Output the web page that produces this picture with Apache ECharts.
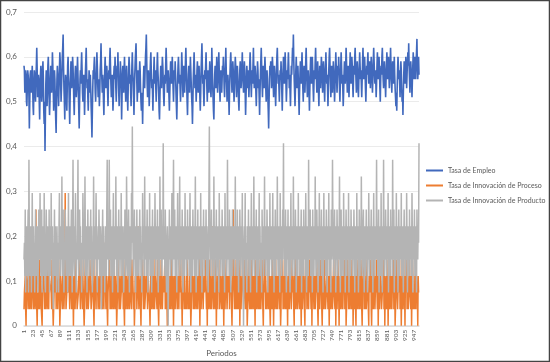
<!DOCTYPE html>
<html><head><meta charset="utf-8">
<script src="https://cdn.jsdelivr.net/npm/echarts@6/dist/echarts.min.js"></script>
<style>html,body{margin:0;padding:0;background:#fff}#c{width:550px;height:362px}</style>
</head><body><div id="c"></div>
<script>
// Tasa de Empleo (valor por período)
const tasaEmpleo = [
.58,.57,.52,.54,.57,.56,.50,.49,.53,.57,.57,.55,.51,.44,.50,.56,.57,.57,.52,.55,.58,.54,.49,.47,.53,.57,.56,.52,.50,.55,.58,.62,.57,.51,.53,.56,.55,.50,.46,.52,
.56,.58,.54,.50,.52,.57,.59,.55,.48,.45,.50,.39,.47,.54,.57,.53,.49,.52,.58,.60,.56,.51,.47,.50,.55,.58,.54,.52,.56,.61,.58,.53,.48,.51,.57,.55,.50,.46,.43,.50,
.55,.58,.56,.52,.49,.53,.57,.61,.59,.54,.50,.53,.56,.60,.62,.65,.58,.53,.50,.46,.52,.56,.55,.51,.48,.53,.58,.60,.56,.54,.49,.45,.51,.55,.59,.57,.53,.55,.60,.58,
.54,.50,.47,.52,.56,.58,.55,.51,.53,.57,.60,.56,.52,.48,.44,.50,.55,.57,.54,.58,.61,.57,.52,.50,.54,.56,.52,.47,.51,.56,.59,.62,.57,.53,.55,.51,.48,.53,.57,.55,
.52,.56,.53,.49,.46,.42,.48,.53,.57,.55,.58,.60,.56,.52,.50,.54,.57,.61,.58,.54,.51,.55,.53,.49,.52,.57,.59,.63,.58,.55,.52,.56,.54,.50,.47,.53,.57,.60,.57,.53,
.55,.58,.56,.52,.49,.54,.57,.55,.59,.62,.58,.54,.51,.53,.56,.52,.48,.51,.56,.58,.55,.60,.57,.53,.50,.54,.58,.56,.61,.57,.52,.49,.53,.55,.59,.57,.53,.46,.51,.56,
.58,.55,.52,.57,.60,.56,.53,.50,.55,.58,.54,.51,.48,.53,.57,.60,.58,.54,.56,.52,.49,.54,.58,.61,.57,.55,.51,.47,.52,.56,.59,.61,.63,.58,.54,.50,.53,.57,.55,.52,
.56,.59,.57,.53,.50,.48,.52,.50,.45,.51,.55,.58,.56,.53,.57,.60,.62,.65,.59,.54,.51,.55,.57,.53,.49,.52,.56,.59,.61,.57,.53,.55,.52,.48,.53,.57,.60,.56,.54,.57,
.53,.50,.54,.58,.61,.57,.55,.52,.48,.46,.51,.55,.58,.56,.53,.57,.60,.58,.55,.51,.49,.53,.56,.54,.58,.62,.59,.55,.52,.54,.57,.55,.51,.48,.52,.56,.59,.57,.54,.56,
.60,.57,.53,.50,.54,.57,.55,.59,.56,.52,.49,.46,.51,.55,.58,.60,.57,.54,.56,.53,.50,.53,.57,.61,.58,.55,.51,.54,.58,.56,.52,.55,.59,.62,.58,.54,.50,.47,.52,.56,
.58,.55,.52,.56,.60,.57,.54,.51,.49,.45,.50,.55,.58,.61,.57,.53,.56,.54,.50,.53,.57,.59,.56,.52,.55,.58,.55,.51,.48,.52,.57,.60,.63,.58,.54,.56,.52,.49,.53,.57,
.55,.58,.61,.57,.53,.50,.54,.57,.55,.52,.56,.59,.57,.53,.51,.55,.62,.58,.54,.51,.48,.46,.52,.56,.58,.55,.53,.57,.60,.56,.52,.55,.58,.61,.57,.53,.50,.54,.57,.55,
.52,.55,.58,.56,.60,.57,.53,.51,.55,.58,.62,.57,.54,.50,.53,.56,.54,.51,.47,.52,.56,.59,.61,.58,.55,.52,.56,.59,.57,.53,.50,.54,.57,.60,.58,.54,.51,.55,.58,.56,
.53,.50,.48,.53,.57,.59,.56,.53,.55,.58,.61,.57,.54,.52,.56,.59,.57,.52,.47,.51,.55,.58,.56,.53,.57,.55,.51,.54,.58,.61,.58,.54,.51,.55,.57,.54,.58,.62,.57,.53,
.55,.58,.56,.52,.49,.53,.56,.59,.57,.53,.55,.51,.47,.52,.56,.59,.62,.58,.54,.51,.55,.58,.56,.53,.57,.60,.57,.53,.50,.54,.57,.55,.51,.48,.44,.50,.55,.58,.56,.59,
.57,.53,.56,.60,.58,.54,.51,.55,.58,.56,.52,.49,.53,.57,.60,.62,.58,.54,.56,.53,.50,.54,.57,.55,.59,.56,.52,.48,.53,.57,.60,.57,.54,.56,.61,.58,.54,.50,.53,.57,
.55,.58,.61,.57,.53,.56,.52,.49,.54,.58,.56,.59,.62,.60,.65,.59,.55,.52,.49,.53,.57,.60,.56,.53,.55,.58,.55,.51,.47,.52,.56,.59,.57,.54,.58,.61,.57,.53,.50,.55,
.58,.56,.52,.55,.59,.62,.58,.54,.51,.54,.57,.55,.52,.48,.53,.57,.60,.58,.54,.56,.60,.57,.53,.50,.54,.57,.55,.59,.62,.58,.55,.52,.56,.59,.56,.52,.49,.54,.58,.56,
.53,.57,.60,.58,.55,.52,.56,.59,.57,.53,.50,.55,.58,.61,.57,.54,.56,.53,.49,.53,.57,.60,.62,.58,.54,.51,.55,.58,.56,.52,.55,.59,.57,.54,.50,.53,.57,.61,.58,.55,
.52,.55,.58,.56,.60,.57,.53,.50,.54,.58,.61,.58,.54,.56,.53,.49,.52,.56,.59,.57,.54,.58,.62,.59,.55,.52,.56,.58,.55,.51,.54,.58,.61,.57,.54,.56,.60,.58,.54,.51,
.55,.58,.56,.60,.62,.58,.55,.52,.56,.59,.57,.53,.51,.55,.58,.61,.58,.55,.57,.54,.51,.55,.59,.62,.58,.55,.57,.60,.57,.53,.50,.54,.58,.56,.59,.61,.57,.54,.56,.59,
.56,.53,.57,.60,.58,.55,.52,.55,.59,.62,.59,.56,.54,.57,.55,.51,.54,.58,.61,.58,.55,.57,.60,.57,.53,.50,.55,.58,.56,.60,.62,.58,.55,.53,.56,.59,.57,.54,.51,.55,
.58,.61,.58,.55,.57,.60,.56,.53,.55,.59,.62,.58,.55,.52,.56,.59,.57,.54,.57,.60,.56,.53,.51,.49,.52,.48,.53,.57,.60,.58,.55,.57,.54,.51,.55,.59,.57,.53,.50,.52,
.47,.52,.56,.59,.57,.54,.56,.60,.57,.53,.56,.59,.61,.58,.63,.58,.55,.52,.56,.59,.57,.54,.51,.55,.58,.61,.58,.55,.57,.60,.58,.55,.59,.61,.64,.58,.55,.57,.60,.56
];
// Innovación: número de empresas innovadoras sobre un total de 27
const totalEmpresas = 27;
const innovProcesoN = [
1,2,2,3,1,0,2,3,3,2,1,1,4,2,1,3,2,2,1,1,3,4,2,1,2,3,3,1,2,7,3,1,0,2,2,1,3,4,1,2,
2,3,1,1,0,2,3,3,4,2,1,2,1,3,3,2,1,5,2,2,1,3,3,3,3,3,2,1,4,2,1,0,1,2,3,2,2,4,1,3,
3,2,1,2,4,4,2,0,1,3,3,2,2,1,3,4,2,1,2,3,8,3,1,1,2,4,2,2,2,3,3,1,2,5,3,2,1,1,3,2,
0,2,3,3,1,2,4,3,2,1,1,1,2,3,5,5,2,1,2,3,4,2,1,3,2,2,0,1,3,4,3,2,1,2,2,3,1,1,2,3,
4,3,2,1,1,2,3,5,2,1,0,2,3,3,2,1,4,4,3,2,1,2,3,2,1,1,3,2,2,4,1,3,3,2,1,5,5,5,2,1,
2,3,1,0,2,2,3,4,3,1,2,1,3,2,1,2,3,3,1,4,2,2,1,3,2,0,1,2,4,3,2,1,2,3,1,1,2,3,2,4,
3,1,2,2,0,3,4,2,1,3,3,2,1,2,5,3,1,1,2,3,2,1,4,2,3,3,1,2,0,1,3,2,2,4,1,2,3,6,2,1,
2,2,3,1,0,2,3,3,4,2,1,2,3,1,1,2,3,2,4,2,1,3,3,2,2,1,0,2,4,3,1,2,3,2,1,5,2,1,1,3,
3,2,2,1,4,3,1,0,2,3,2,2,1,4,3,2,1,1,3,2,2,3,4,1,2,1,3,3,0,2,4,2,1,3,2,1,2,5,3,1,
1,3,2,0,2,3,3,1,2,4,4,2,1,1,3,2,1,3,2,2,5,3,1,2,0,2,3,4,2,1,3,1,2,2,1,3,4,3,1,2,
2,1,3,3,2,0,1,4,2,3,2,1,2,3,1,2,4,3,1,2,3,2,1,1,3,5,2,0,2,3,1,2,4,3,2,1,2,3,2,2,
3,4,2,1,2,0,3,3,1,2,4,2,1,3,2,1,2,3,6,2,1,3,2,2,1,4,3,0,2,1,3,2,2,4,1,1,2,3,3,1,
2,3,1,4,2,0,2,3,1,2,3,4,2,1,1,3,2,2,3,1,4,2,3,2,1,0,2,3,7,3,2,1,3,2,1,4,2,1,3,2,
1,2,4,3,0,2,3,1,2,2,3,5,2,1,1,3,4,2,1,2,3,2,0,1,3,4,2,2,1,3,3,1,2,4,1,2,3,2,1,3,
2,0,3,4,2,1,3,2,2,1,4,3,1,2,3,1,2,3,4,2,1,0,2,3,2,5,3,1,2,2,1,3,4,2,1,2,3,1,0,2,
3,2,1,4,3,2,0,2,3,1,2,4,2,1,3,1,2,3,3,2,1,4,2,0,1,3,2,3,4,1,2,1,3,2,2,1,4,3,1,2,
0,3,2,4,1,2,3,3,2,1,1,4,2,3,2,1,0,3,5,2,1,2,3,4,1,1,2,3,2,1,3,4,2,0,2,3,1,2,4,3,
2,1,0,3,2,4,3,1,2,2,3,1,1,4,2,3,2,1,3,0,2,4,3,2,1,2,3,1,1,3,2,4,2,1,0,2,3,3,1,2,
4,2,3,1,0,2,3,2,1,4,3,2,1,1,2,3,5,2,1,3,2,0,2,4,3,1,2,3,2,1,1,3,4,2,2,1,3,0,2,3,
1,2,4,3,2,0,2,3,1,2,4,2,1,3,1,2,3,2,4,1,2,3,0,1,3,2,4,2,1,3,2,1,2,3,4,1,2,2,3,0,
2,3,1,4,2,2,0,3,2,1,3,4,2,1,2,3,1,2,4,3,1,0,2,3,2,4,1,2,3,1,2,1,3,4,2,2,1,0,3,2,
3,2,4,1,0,2,3,2,1,4,3,2,1,1,3,2,4,2,1,3,0,2,3,1,2,4,3,2,1,1,2,3,2,4,1,3,0,2,2,3,
1,4,2,3,0,2,3,1,2,4,2,1,3,1,2,3,2,4,1,2,3,0,1,2,4,3,2,1,1,3,2,2,4,1,3,2,0,2,3,1,
2,3,4,1,2,0,3,2,2,4,1,3,2,1,1,3,4,2,2,1,3,0,2,4,3,1,2,2,1,3,1,4,2,3,1,2,0,3,2,2
];
const innovProductoN = [
4,5,3,7,2,5,6,4,3,5,7,2,10,5,4,3,6,5,2,4,8,5,3,6,4,5,2,4,7,5,3,4,6,3,2,5,7,4,5,8,
4,3,5,7,2,6,4,5,3,8,5,4,2,4,7,5,3,6,4,5,3,7,2,4,6,3,8,5,4,6,3,1,5,4,7,3,6,4,5,2,
6,4,3,5,2,6,8,4,5,3,6,4,9,5,3,7,4,2,5,4,7,5,3,4,6,5,2,4,8,3,5,6,4,3,5,7,4,2,6,10,
5,4,3,6,5,8,4,2,5,4,6,10,5,3,4,7,5,6,3,4,2,5,4,8,6,3,5,4,9,5,3,4,6,2,5,7,4,5,3,6,
4,5,7,3,6,4,2,5,4,9,5,3,6,4,5,8,4,3,2,5,6,4,7,5,3,4,6,5,1,4,5,7,3,6,4,5,2,4,6,5,
3,7,10,5,4,6,3,10,5,4,7,3,5,6,4,2,5,8,4,3,6,5,4,9,5,3,4,6,2,5,7,4,6,3,5,4,8,5,3,6,
4,5,2,6,4,7,5,3,4,9,6,4,3,5,7,4,2,5,6,3,4,8,5,12,6,4,3,5,7,4,6,2,5,4,7,3,5,6,4,3,
5,7,4,6,3,5,2,4,8,5,6,4,3,9,5,4,6,3,5,7,4,2,5,6,4,8,3,5,4,6,2,5,7,4,3,6,5,4,8,5,
3,6,4,5,7,4,2,5,6,3,9,5,4,7,5,3,6,4,11,5,4,6,3,7,5,4,2,5,6,4,0,3,5,7,4,6,3,5,4,8,
5,3,6,10,5,4,7,3,5,6,4,2,5,8,4,6,3,5,9,4,5,3,6,4,7,5,2,4,6,5,3,8,4,5,6,3,4,7,5,4,
6,3,5,8,4,2,5,6,4,3,7,5,4,6,3,5,9,4,2,5,6,4,7,3,5,4,6,5,3,8,4,5,2,6,4,5,7,3,4,6,
5,4,7,3,6,5,4,2,5,8,12,6,4,3,5,7,4,6,3,5,4,9,5,2,4,6,5,7,3,4,5,6,4,2,8,5,4,6,3,5,
4,7,5,3,6,4,5,2,8,4,6,5,3,4,10,5,4,6,3,7,5,4,2,6,5,3,7,4,5,6,4,3,5,9,4,6,5,3,7,4,
5,2,6,4,7,5,3,4,6,5,8,3,4,0,5,6,4,8,3,5,4,2,6,5,4,7,3,5,6,4,2,5,8,4,6,3,5,4,9,5,
3,6,4,5,7,2,5,4,6,3,5,8,4,6,3,4,5,2,7,5,4,6,3,5,9,4,6,3,5,4,7,5,2,4,6,5,3,8,4,5,
6,4,3,5,8,4,6,2,5,4,7,3,5,6,4,9,5,3,4,6,5,2,8,4,5,6,3,4,7,5,11,4,6,3,5,7,4,2,5,6,
4,7,3,5,6,4,2,5,8,4,6,3,5,4,9,5,3,6,4,7,5,2,4,6,5,3,8,4,5,6,3,4,5,7,2,6,4,5,3,7,
5,4,6,3,8,5,2,4,6,5,3,10,4,6,5,7,3,4,5,6,2,7,4,5,3,6,4,9,5,3,4,7,5,6,2,4,5,8,3,6,
4,5,7,3,6,4,2,5,8,4,6,5,3,4,7,5,2,6,4,5,8,3,4,6,5,2,7,4,5,10,6,4,3,5,7,4,6,2,5,4,
7,5,3,6,4,5,9,4,2,5,7,3,6,4,5,3,8,5,4,6,2,5,7,4,3,6,5,4,8,2,5,6,4,3,7,5,4,6,3,5,
4,7,5,2,6,4,5,3,8,4,6,5,2,4,7,5,3,6,4,9,5,3,4,6,7,4,2,5,6,3,5,7,4,5,2,6,4,8,5,3,
6,4,5,7,3,4,6,2,5,8,4,5,3,6,4,5,10,4,6,3,5,7,2,4,5,6,3,8,4,5,2,6,4,10,5,3,6,4,7,5,
3,5,6,4,8,2,5,4,6,3,7,5,4,6,3,10,5,4,7,2,5,6,3,4,8,5,4,6,2,5,7,3,4,6,5,4,8,3,5,6,
4,2,5,7,4,6,3,5,4,8,5,2,6,4,5,3,7,4,6,5,3,4,8,5,2,6,4,5,7,3,5,4,6,2,7,5,4,6,5,11
];
const seriesNames = ['Tasa de Empleo','Tasa de Innovación de Proceso','Tasa de Innovación de Producto'];
const periodos = tasaEmpleo.map((_, i) => String(i + 1));
const tasaProceso = innovProcesoN.map(n => +(n / totalEmpresas).toFixed(4));
const tasaProducto = innovProductoN.map(n => +(n / totalEmpresas).toFixed(4));

const FONT = 'Lato, "Open Sans", sans-serif';
const chart = echarts.init(document.getElementById('c'), null, {renderer: 'canvas'});
chart.setOption({
  animation: false,
  backgroundColor: '#ffffff',
  grid: {left: 24, right: 131, top: 12, bottom: 34, containLabel: false},
  legend: {
    orient: 'vertical', left: 426, top: 167, itemWidth: 17, itemHeight: 2, itemGap: 8,
    padding: 0, icon: 'rect',
    textStyle: {fontSize: 7, color: '#595959', fontFamily: FONT},
    data: seriesNames
  },
  xAxis: {
    type: 'category', data: periodos, boundaryGap: false,
    name: 'Periodos', nameLocation: 'middle', nameGap: 22,
    nameTextStyle: {fontSize: 8, color: '#595959', fontFamily: FONT},
    axisLine: {show: true, lineStyle: {color: '#d9d9d9', width: 1.5}},
    axisTick: {show: false},
    axisLabel: {interval: 21, rotate: 90, fontSize: 6.5, color: '#595959', fontFamily: FONT, margin: 4}
  },
  yAxis: {
    type: 'value', min: 0, max: 0.7, interval: 0.1,
    axisLine: {show: false}, axisTick: {show: false},
    splitLine: {lineStyle: {color: '#ebebeb', width: 1}},
    axisLabel: {fontSize: 8, color: '#595959', fontFamily: FONT, margin: 7,
      formatter: v => v === 0 ? '0' : v.toFixed(1).replace('.', ',')}
  },
  series: [
    {name: seriesNames[0], type: 'line', data: tasaEmpleo, symbol: 'none',
     lineStyle: {color: '#4169BD', width: 1.6}, itemStyle: {color: '#4169BD'}},
    {name: seriesNames[1], type: 'line', data: tasaProceso, symbol: 'none',
     lineStyle: {color: '#ED7D31', width: 1.5}, itemStyle: {color: '#ED7D31'}},
    {name: seriesNames[2], type: 'line', data: tasaProducto, symbol: 'none',
     lineStyle: {color: '#B4B4B4', width: 1.5}, itemStyle: {color: '#B4B4B4'}}
  ],
  graphic: [{type: 'rect', silent: true, z: 100,
    shape: {x: 0.5, y: 0.5, width: 549, height: 361},
    style: {fill: null, stroke: '#444', lineWidth: 1.5}}]
});
</script></body></html>
